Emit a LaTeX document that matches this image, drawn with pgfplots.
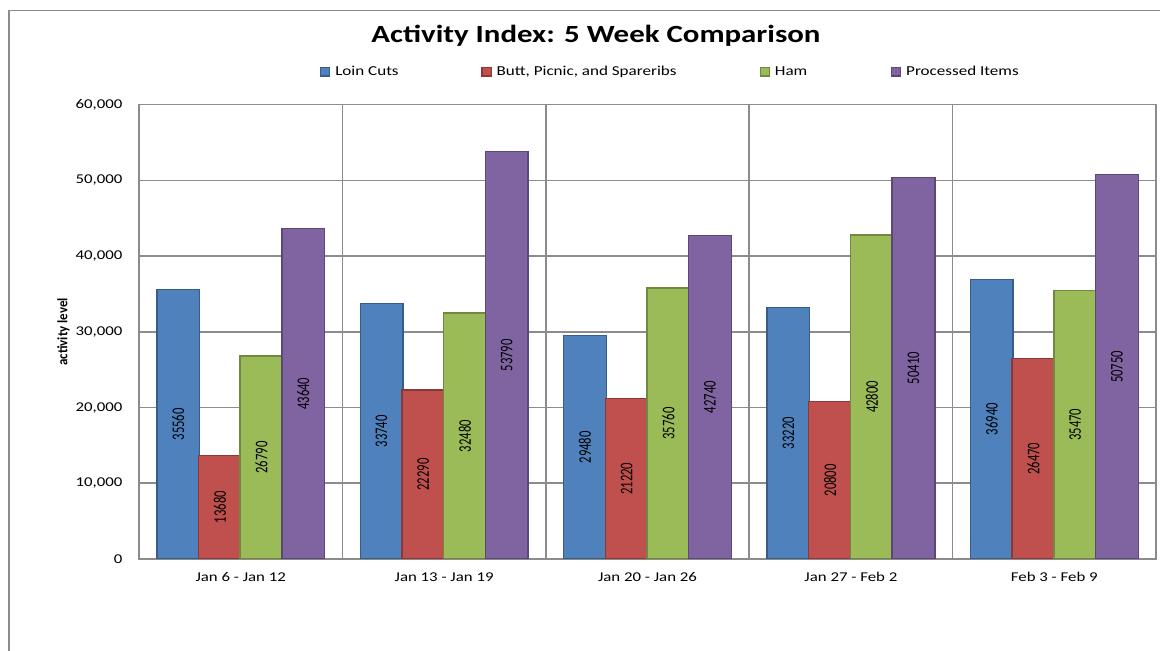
\documentclass[border=0pt]{standalone}
\usepackage{fontspec}
\setmainfont{Carlito}[FakeStretch=1.25]
\newfontfamily\vfont{Carlito}
\usepackage{pgfplots}
\pgfplotsset{compat=1.18}
\definecolor{cblue}{HTML}{4F81BD}
\definecolor{cred}{HTML}{C0504D}
\definecolor{cgreen}{HTML}{9BBB59}
\definecolor{cpurple}{HTML}{8064A2}
\definecolor{dblue}{HTML}{385D8A}
\definecolor{dred}{HTML}{8C3836}
\definecolor{dgreen}{HTML}{71893F}
\definecolor{dpurple}{HTML}{5C4776}
\definecolor{gridc}{HTML}{8C8C8C}
\begin{document}
\begin{tikzpicture}[x=1bp,y=1bp]
\path[use as bounding box] (0,0) rectangle (1160,651);
\clip (0,0) rectangle (1160,651);
\draw[gridc, line width=1.6bp] (9,-20) rectangle (1190,640.6);
\node[font=\bfseries\fontsize{24.8}{29}\selectfont] at (596,615) {Activity Index: 5 Week Comparison};
\begin{axis}[
  at={(139bp,92bp)}, anchor=south west,
  scale only axis, width=1017bp, height=454.4bp,
  ybar=0pt, bar width=0.21,
  xmin=-0.5, xmax=4.5, ymin=0, ymax=60000,
  scaled y ticks=false,
  xtick={0,...,4},
  xticklabels={Jan 6 - Jan 12, Jan 13 - Jan 19, Jan 20 - Jan 26, Jan 27 - Feb 2, Feb 3 - Feb 9},
  minor xtick={0.5,1.5,2.5,3.5},
  xminorgrids, ymajorgrids,
  ytick={0,10000,...,60000},
  yticklabels={0,{10,000},{20,000},{30,000},{40,000},{50,000},{60,000}},
  major tick length=0pt, minor tick length=0pt,
  axis line style={gridc, line width=1.6bp},
  major grid style={gridc, line width=1.6bp},
  minor grid style={gridc, line width=1.6bp},
  tick label style={font=\fontsize{13.5}{16}\selectfont, text=black},
  yticklabel style={anchor=east, xshift=-13bp},
  xticklabel style={yshift=-10bp},
  ylabel={activity level},
  ylabel style={font=\vfont\bfseries\fontsize{13}{15}\selectfont, at={(axis description cs:-0.0742,0.5)}, anchor=center, yscale=1.1},
  legend columns=4,
  legend style={at={(0.178,1.0722)}, anchor=west, draw=none, fill=none, inner sep=0pt, outer sep=0pt,
    font=\fontsize{13.7}{16}\selectfont, nodes={inner sep=0pt},
    /tikz/every even column/.append style={column sep=0pt}},
  legend image code/.code={\draw[#1, line width=1.2bp] (0bp,-4.3bp) rectangle (9.2bp,4.3bp); \path (14bp,0bp);},
  nodes near coords={\pgfmathprintnumber[assume math mode=true, fixed, precision=0, 1000 sep={}]{\pgfplotspointmeta}},
  visualization depends on={y \as \rawy},
  nodes near coords style={shift={(axis direction cs:0,-\rawy/2)}, rotate=90, yscale=1.4, anchor=center,
    font=\vfont\fontsize{12.7}{15}\selectfont, text=black, inner sep=0pt},
]
\addplot[fill=cblue, draw=dblue, line width=1.4bp, bar shift=-0.3075]
  coordinates {(0,35560) (1,33740) (2,29480) (3,33220) (4,36940)};
\addlegendentry{\makebox[146bp][l]{Loin Cuts}}
\addplot[fill=cred, draw=dred, line width=1.4bp, bar shift=-0.1025]
  coordinates {(0,13680) (1,22290) (2,21220) (3,20800) (4,26470)};
\addlegendentry{\makebox[263bp][l]{Butt, Picnic, and Spareribs}}
\addplot[fill=cgreen, draw=dgreen, line width=1.4bp, bar shift=0.1025]
  coordinates {(0,26790) (1,32480) (2,35760) (3,42800) (4,35470)};
\addlegendentry{\makebox[116bp][l]{Ham}}
\addplot[fill=cpurple, draw=dpurple, line width=1.4bp, bar shift=0.3075]
  coordinates {(0,43640) (1,53790) (2,42740) (3,50410) (4,50750)};
\addlegendentry{Processed Items}
\end{axis}
\end{tikzpicture}
\end{document}
